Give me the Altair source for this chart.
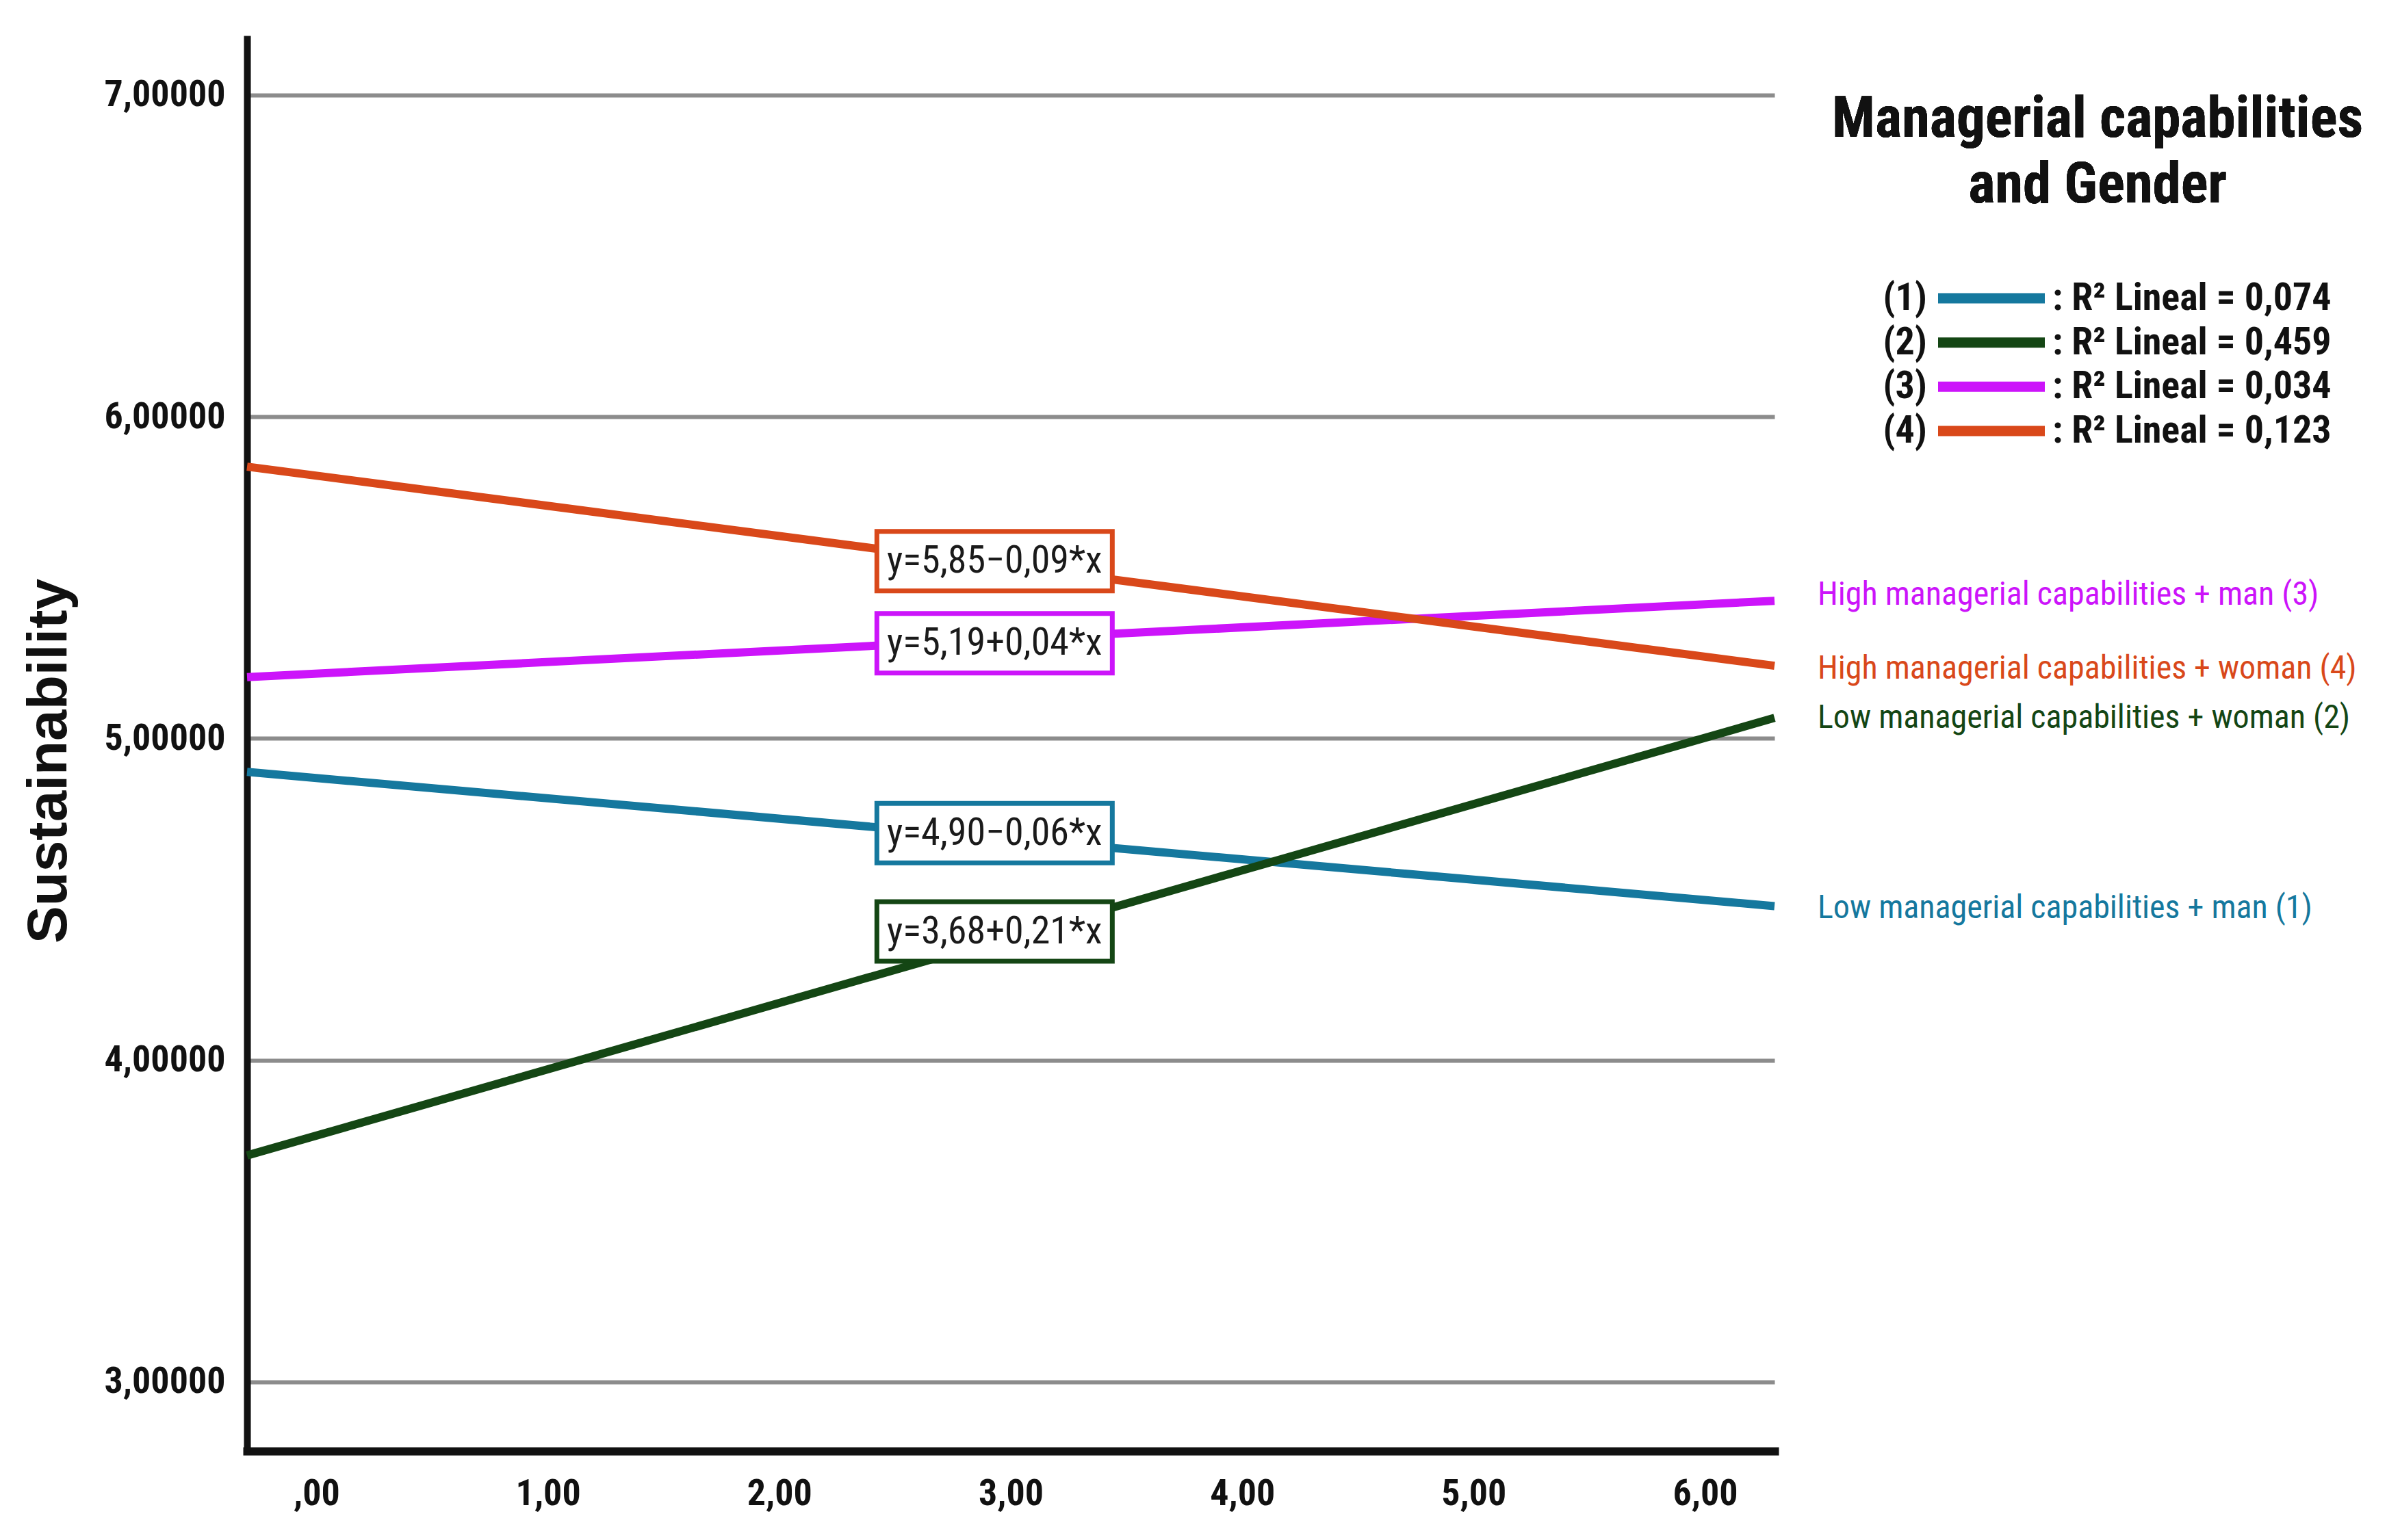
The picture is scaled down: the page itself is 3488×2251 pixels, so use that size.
import altair as alt
import pandas as pd

# ---------------- data ----------------
series = [
    "Low managerial capabilities + man (1)",
    "Low managerial capabilities + woman (2)",
    "High managerial capabilities + man (3)",
    "High managerial capabilities + woman (4)",
]
series_num = ["(1)", "(2)", "(3)", "(4)"]
line_colors = ["#15789e", "#144614", "#cc14fa", "#d9481a"]
r2_text = [": R² Lineal = 0,074", ": R² Lineal = 0,459", ": R² Lineal = 0,034", ": R² Lineal = 0,123"]
equations = ["y=4,90−0,06*x", "y=3,68+0,21*x", "y=5,19+0,04*x", "y=5,85−0,09*x"]

x_start = [-0.3, -0.3, -0.3, -0.3]
x_end = [6.3, 6.3, 6.3, 6.3]
y_start = [4.896, 3.704, 5.191, 5.845]
y_end = [4.479, 5.064, 5.428, 5.226]

label_y = [4.472, 5.062, 5.445, 5.215]
box_x = [2.93, 2.93, 2.93, 2.93]
box_y = [4.706, 4.400, 5.296, 5.551]

x_ticks = [0, 1, 2, 3, 4, 5, 6]
y_ticks = [3, 4, 5, 6, 7]
x_domain = [-0.3, 6.3]
y_domain = [2.785, 7.185]
legend_title = ["Managerial capabilities", "and Gender"]
y_title = "Sustainability"

# ---------------- tables ----------------
lines_df = pd.DataFrame(
    [{"series": s, "x": xs, "y": ys} for s, xs, ys in zip(series, x_start, y_start)]
    + [{"series": s, "x": xe, "y": ye} for s, xe, ye in zip(series, x_end, y_end)]
)
labels_df = pd.DataFrame({"series": series, "x": x_end, "y": label_y})
boxes_df = pd.DataFrame({"series": series, "x": box_x, "y": box_y, "eq": equations})
legend_df = pd.DataFrame({"series": series, "num": series_num, "r2": r2_text,
                          "row": [1, 2, 3, 4]})

NARROW = "'Liberation Sans Narrow', 'Arial Narrow', 'Roboto Condensed', 'Liberation Sans', sans-serif"
REG = "'Liberation Sans', Arial, sans-serif"

color_scale = alt.Scale(domain=series, range=line_colors)

x_enc = alt.X(
    "x:Q",
    scale=alt.Scale(domain=x_domain, nice=False, zero=False),
    axis=alt.Axis(
        values=x_ticks,
        labelExpr="datum.value == 0 ? ',00' : replace(format(datum.value, '.2f'), '.', ',')",
        title=None,
        grid=False,
        ticks=False,
        tickSize=0,
        domainColor="#111111",
        domainWidth=12,
        domainCap="square",
        labelFont=NARROW,
        labelFontSize=54,
        labelFontWeight="bold",
        labelColor="#111111",
        labelPadding=35,
        labelLimit=0,
    ),
)
y_enc = alt.Y(
    "y:Q",
    scale=alt.Scale(domain=y_domain, nice=False, zero=False),
    axis=alt.Axis(
        values=y_ticks,
        labelExpr="replace(format(datum.value, '.5f'), '.', ',')",
        title=y_title,
        titleFont=REG,
        titleFontSize=82,
        titleFontWeight="bold",
        titleColor="#111111",
        titleAngle=270,
        titleAlign="center",
        titleBaseline="middle",
        titleX=-290,
        titleY=1060,
        titleLimit=0,
        grid=True,
        gridColor="#8c8c8c",
        gridWidth=6,
        ticks=False,
        tickSize=0,
        domainColor="#111111",
        domainWidth=10,
        labelFont=NARROW,
        labelFontSize=54,
        labelFontWeight="bold",
        labelColor="#111111",
        labelPadding=32,
        labelLimit=0,
    ),
)

lines = alt.Chart(lines_df).mark_line(strokeWidth=12).encode(
    x=x_enc, y=y_enc,
    color=alt.Color("series:N", scale=color_scale, legend=None),
    detail="series:N",
)

end_labels = alt.Chart(labels_df).mark_text(
    align="left", baseline="middle", dx=63, font=NARROW, fontSize=48
).encode(
    x=x_enc, y=y_enc, text="series:N",
    color=alt.Color("series:N", scale=color_scale, legend=None),
)

box_path = "M-1,-0.253L1,-0.253L1,0.253L-1,0.253Z"
boxes = alt.Chart(boxes_df).mark_point(
    shape=box_path, size=344 * 344, fill="white", fillOpacity=1, strokeWidth=7, opacity=1
).encode(
    x=x_enc, y=y_enc,
    stroke=alt.Stroke("series:N", scale=color_scale, legend=None),
)
box_text = alt.Chart(boxes_df).mark_text(
    align="center", baseline="middle", font=NARROW, fontSize=56, color="#1a1a1a"
).encode(x=x_enc, y=y_enc, text="eq:N")

main = alt.layer(lines, boxes, box_text, end_labels)

# ---------------- legend (right side) ----------------
row_y = alt.Y("row:Q", scale=alt.Scale(domain=[1, 4], range=[384, 578]), axis=None)

leg_num = alt.Chart(legend_df).mark_text(
    align="right", baseline="middle", font=NARROW, fontSize=56, fontWeight="bold", color="#111111"
).encode(x=alt.value(2455), y=row_y, text="num:N")
leg_swatch = alt.Chart(legend_df).mark_rule(strokeWidth=15).encode(
    x=alt.value(2471), x2=alt.value(2627), y=row_y,
    color=alt.Color("series:N", scale=color_scale, legend=None),
)
leg_text = alt.Chart(legend_df).mark_text(
    align="left", baseline="middle", font=NARROW, fontSize=56, fontWeight="bold", color="#111111"
).encode(x=alt.value(2638), y=row_y, text="r2:N")
leg_title = alt.Chart(legend_df).mark_text(
    align="center", baseline="middle", font=NARROW, fontSize=83, fontWeight="bold",
    color="#111111", lineHeight=96
).encode(x=alt.value(2704), y=alt.value(123), text=alt.value(legend_title))

legend = alt.layer(leg_num, leg_swatch, leg_text, leg_title)

chart = (
    alt.layer(main, legend)
    .resolve_scale(y="independent")
    .properties(
        width=2232,
        height=2069,
        padding={"left": 353, "top": 44, "right": 870, "bottom": 100},
        autosize=alt.AutoSizeParams(type="none"),
        background="white",
    )
    .configure_view(stroke=None)
)

chart.save("out.html", embed_options={"renderer": "svg", "actions": False})
